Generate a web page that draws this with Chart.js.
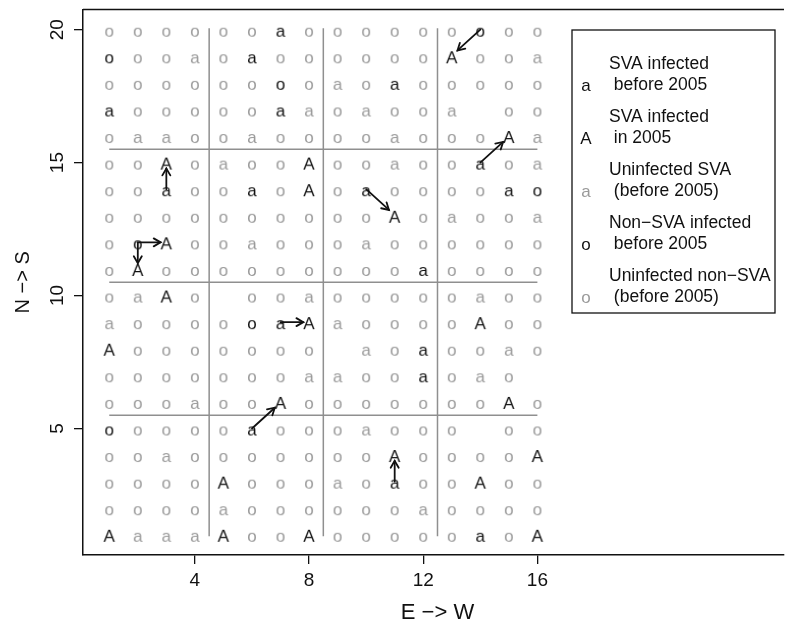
<!DOCTYPE html>
<html>
<head>
<meta charset="utf-8">
<title>SVA infection map</title>
<script src="https://cdn.jsdelivr.net/npm/chart.js@4.4.1/dist/chart.umd.min.js"></script>
<style>
  html, body { margin: 0; padding: 0; background: #fff; }
  #wrap { width: 791px; height: 621px; }
</style>
</head>
<body>
<div id="wrap"><canvas id="map" width="791" height="621"></canvas></div>
<script>
(function () {
  'use strict';

  // one string per row, y = 20 at the top down to y = 1; one char per x = 1..16
  // o = uninfected non-SVA, a = uninfected SVA, b = SVA infected before 2005,
  // A = SVA infected in 2005, O = non-SVA infected before 2005, - = nothing
  var ROWS = [
    'oooooobooooooOoo',
    'OooaobooooooAooa',
    'ooooooOoaobooooo',
    'booooobaoaooa-oo',
    'oaaooaooooaoooAa',
    'ooAoaooAooaooboa',
    'oobooboAoboooobO',
    'ooooooooooAoaooa',
    'oOAooaoooaoooooo',
    'oAoooooooooboooo',
    'oaAo-ooaoooooaoo',
    'aooooObAaooooAoo',
    'Aooooooo-aobooao',
    'oooooooaaooboao-',
    'oooaooAoooooooAo',
    'Oooooboooaooo-oo',
    'ooaoooooooAooooA',
    'ooooAoooaobooAoo',
    'ooooaooooooaoooo',
    'AaaaAooAoooooboA'
  ];
  var CODES = ['o', 'a', 'O', 'b', 'A'];
  var GLYPHS = ['o', 'a', 'o', 'a', 'A'];
  var LEGEND_CODES = ['b', 'A', 'a', 'O', 'o'];
  var LEGEND_LABELS = [
    ['SVA infected', ' before 2005'],
    ['SVA infected', ' in 2005'],
    ['Uninfected SVA', ' (before 2005)'],
    ['Non\u2212SVA infected', ' before 2005'],
    ['Uninfected non\u2212SVA', ' (before 2005)']
  ];
  var X_TICKS = [4, 8, 12, 16];
  var Y_TICKS = [5, 10, 15, 20];
  var SPLIT_X = [4.5, 8.5, 12.5];
  var SPLIT_Y = [5.5, 10.5, 15.5];
  // [from x, from y, to x, to y]
  var ARROWS = [
    [14, 20, 13, 19], [14, 15, 15, 16], [3, 14, 3, 15], [10, 14, 11, 13],
    [2, 12, 3, 12], [2, 12, 2, 11], [7, 9, 8, 9], [6, 5, 7, 6], [11, 3, 11, 4]
  ];

  var FONT = '"Liberation Sans", Arial, Helvetica, sans-serif';
  var INK = '#111111';
  var GREY = '#9a9a9a';
  var CODE_COLOR = { o: GREY, a: GREY, O: INK, b: INK, A: INK };

  function pointsFor(code) {
    var pts = [];
    ROWS.forEach(function (row, i) {
      for (var j = 0; j < row.length; j++) {
        if (row.charAt(j) === code) pts.push({ x: j + 1, y: 20 - i });
      }
    });
    return pts;
  }

  function glyphCanvas(ch, color) {
    var c = document.createElement('canvas');
    c.width = 22; c.height = 24;
    var g = c.getContext('2d');
    g.font = '17px ' + FONT;
    g.fillStyle = color;
    g.textAlign = 'center';
    g.textBaseline = 'alphabetic';
    g.fillText(ch, 11, 18.5);
    return c;
  }

  function glyphOf(code) { return GLYPHS[CODES.indexOf(code)]; }

  var decor = {
    id: 'mapDecor',
    beforeDatasetsDraw: function (chart) {
      var ctx = chart.ctx, xs = chart.scales.x, ys = chart.scales.y;
      ctx.save();
      ctx.strokeStyle = '#8f8f8f';
      ctx.lineWidth = 1.5;
      SPLIT_X.forEach(function (v) {
        ctx.beginPath();
        ctx.moveTo(xs.getPixelForValue(v), ys.getPixelForValue(20.05));
        ctx.lineTo(xs.getPixelForValue(v), ys.getPixelForValue(0.95));
        ctx.stroke();
      });
      SPLIT_Y.forEach(function (v) {
        ctx.beginPath();
        ctx.moveTo(xs.getPixelForValue(1), ys.getPixelForValue(v));
        ctx.lineTo(xs.getPixelForValue(16), ys.getPixelForValue(v));
        ctx.stroke();
      });
      ctx.restore();
    },
    afterDatasetsDraw: function (chart) {
      var ctx = chart.ctx, xs = chart.scales.x, ys = chart.scales.y, area = chart.chartArea;
      ctx.save();

      // arrows
      ctx.strokeStyle = INK;
      ctx.lineWidth = 1.8;
      ctx.lineCap = 'round';
      ARROWS.forEach(function (a) {
        var dx = Math.sign(a[2] - a[0]), dy = Math.sign(a[3] - a[1]);
        var x0 = xs.getPixelForValue(a[0]), y0 = ys.getPixelForValue(a[1]);
        var x1 = xs.getPixelForValue(a[2] - 0.2 * dx), y1 = ys.getPixelForValue(a[3] - 0.22 * dy);
        var ang = Math.atan2(y1 - y0, x1 - x0), head = 8, spread = Math.PI / 6;
        ctx.beginPath();
        ctx.moveTo(x0, y0);
        ctx.lineTo(x1, y1);
        ctx.stroke();
        ctx.beginPath();
        ctx.moveTo(x1 - head * Math.cos(ang - spread), y1 - head * Math.sin(ang - spread));
        ctx.lineTo(x1, y1);
        ctx.lineTo(x1 - head * Math.cos(ang + spread), y1 - head * Math.sin(ang + spread));
        ctx.stroke();
      });

      // top edge of the frame
      ctx.lineCap = 'butt';
      ctx.lineWidth = 1.5;
      ctx.beginPath();
      ctx.moveTo(area.left, area.top);
      ctx.lineTo(area.right, area.top);
      ctx.stroke();

      // y tick labels, rotated like R's las = 0
      ctx.fillStyle = INK;
      ctx.font = '19px ' + FONT;
      ctx.textAlign = 'center';
      ctx.textBaseline = 'alphabetic';
      ys.ticks.forEach(function (t) {
        ctx.save();
        ctx.translate(63, ys.getPixelForValue(t.value));
        ctx.rotate(-Math.PI / 2);
        ctx.fillText(String(t.value), 0, 0);
        ctx.restore();
      });

      // axis titles
      ctx.font = '20px ' + FONT;
      ctx.save();
      ctx.translate(29, (area.top + area.bottom) / 2);
      ctx.rotate(-Math.PI / 2);
      ctx.fillText('N \u2212> S', 0, 0);
      ctx.restore();
      ctx.font = '22px ' + FONT;
      ctx.fillText('E \u2212> W', xs.getPixelForValue(12.5), 619);

      // legend
      ctx.strokeStyle = INK;
      ctx.lineWidth = 1.3;
      ctx.strokeRect(572, 30, 203, 283);
      LEGEND_CODES.forEach(function (code, i) {
        var y1 = 63 + i * 53, y2 = y1 + 21;
        ctx.fillStyle = CODE_COLOR[code];
        ctx.font = '17px ' + FONT;
        ctx.textAlign = 'center';
        ctx.fillText(glyphOf(code), 586, y2 + 6.5);
        ctx.fillStyle = INK;
        ctx.font = '17.5px ' + FONT;
        ctx.textAlign = 'left';
        ctx.fillText(LEGEND_LABELS[i][0], 609, y1 + 6);
        ctx.fillText(LEGEND_LABELS[i][1], 609, y2 + 6);
      });
      ctx.restore();
    }
  };

  var frameGrid = { display: true, drawOnChartArea: false, drawTicks: true, tickLength: 9, color: INK, lineWidth: 1.3 };
  var frameBorder = { display: true, color: INK, width: 1.5 };

  new Chart(document.getElementById('map'), {
    type: 'scatter',
    data: {
      datasets: CODES.map(function (code, i) {
        return {
          label: code,
          data: pointsFor(code),
          pointStyle: glyphCanvas(GLYPHS[i], CODE_COLOR[code]),
          pointRadius: 6,
          showLine: false
        };
      })
    },
    options: {
      responsive: false,
      animation: false,
      events: [],
      layout: { padding: { top: 9.5, left: 0, right: 0, bottom: 0 } },
      plugins: { legend: { display: false }, tooltip: { enabled: false } },
      scales: {
        x: {
          type: 'linear', min: 0.08, max: 24.64,
          afterBuildTicks: function (s) { s.ticks = X_TICKS.map(function (v) { return { value: v }; }); },
          afterFit: function (s) { s.height = 66; },
          grid: frameGrid,
          border: frameBorder,
          ticks: { color: INK, font: { family: FONT, size: 19 }, padding: 5, maxRotation: 0, autoSkip: false }
        },
        y: {
          type: 'linear', min: 0.24, max: 20.76,
          afterBuildTicks: function (s) { s.ticks = Y_TICKS.map(function (v) { return { value: v }; }); },
          afterFit: function (s) { s.width = 83; },
          grid: frameGrid,
          border: frameBorder,
          ticks: { display: false }
        }
      }
    },
    plugins: [decor]
  });
})();
</script>
</body>
</html>
